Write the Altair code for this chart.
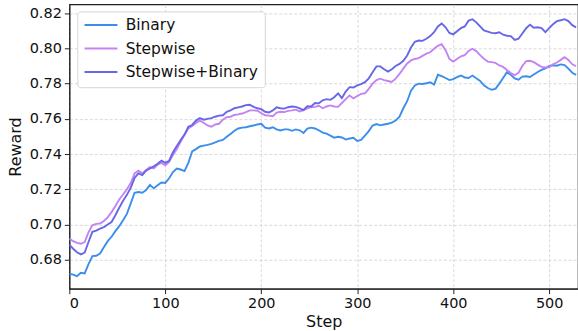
import altair as alt
import pandas as pd

# training steps at which the smoothed reward was logged
steps = list(range(0, 529, 4))

binary = [
    0.6720, 0.6715, 0.6706, 0.6725, 0.6722, 0.6775, 0.6820, 0.6822, 0.6835, 0.6870,
    0.6905, 0.6930, 0.6962, 0.6990, 0.7024, 0.7060, 0.7120, 0.7180, 0.7184, 0.7180,
    0.7195, 0.7225, 0.7205, 0.7222, 0.7238, 0.7236, 0.7262, 0.7298, 0.7318, 0.7312,
    0.7303, 0.7350, 0.7415, 0.7428, 0.7443, 0.7448, 0.7452, 0.7458, 0.7466, 0.7475,
    0.7480, 0.7498, 0.7514, 0.7532, 0.7545, 0.7550, 0.7552, 0.7558, 0.7562, 0.7568,
    0.7572, 0.7550, 0.7545, 0.7552, 0.7540, 0.7534, 0.7540, 0.7540, 0.7532, 0.7540,
    0.7535, 0.7520, 0.7545, 0.7550, 0.7545, 0.7535, 0.7522, 0.7516, 0.7505, 0.7493,
    0.7498, 0.7494, 0.7482, 0.7488, 0.7492, 0.7474, 0.7480, 0.7505, 0.7530, 0.7562,
    0.7570, 0.7563, 0.7568, 0.7572, 0.7578, 0.7590, 0.7612, 0.7660, 0.7700, 0.7760,
    0.7790, 0.7800, 0.7798, 0.7802, 0.7808, 0.7795, 0.7850, 0.7842, 0.7832, 0.7820,
    0.7826, 0.7837, 0.7846, 0.7835, 0.7832, 0.7846, 0.7830, 0.7815, 0.7790, 0.7775,
    0.7765, 0.7770, 0.7800, 0.7832, 0.7865, 0.7850, 0.7830, 0.7822, 0.7840, 0.7842,
    0.7838, 0.7852, 0.7866, 0.7878, 0.7886, 0.7900, 0.7904, 0.7902, 0.7909, 0.7905,
    0.7885, 0.7862, 0.7850,
]

stepwise = [
    0.6920, 0.6905, 0.6895, 0.6890, 0.6900, 0.6955, 0.6995, 0.7003, 0.7005, 0.7020,
    0.7040, 0.7070, 0.7105, 0.7142, 0.7170, 0.7200, 0.7235, 0.7290, 0.7305, 0.7290,
    0.7310, 0.7326, 0.7318, 0.7340, 0.7350, 0.7336, 0.7355, 0.7395, 0.7428, 0.7470,
    0.7510, 0.7545, 0.7560, 0.7576, 0.7590, 0.7578, 0.7562, 0.7555, 0.7568, 0.7572,
    0.7595, 0.7610, 0.7612, 0.7622, 0.7625, 0.7630, 0.7638, 0.7648, 0.7648, 0.7646,
    0.7632, 0.7620, 0.7618, 0.7615, 0.7635, 0.7640, 0.7638, 0.7645, 0.7648, 0.7652,
    0.7642, 0.7650, 0.7660, 0.7666, 0.7668, 0.7674, 0.7660, 0.7670, 0.7676, 0.7670,
    0.7668, 0.7690, 0.7712, 0.7733, 0.7716, 0.7730, 0.7742, 0.7745, 0.7770, 0.7800,
    0.7820, 0.7828, 0.7820, 0.7815, 0.7810, 0.7828, 0.7855, 0.7885, 0.7915, 0.7932,
    0.7940, 0.7945, 0.7958, 0.7970, 0.7978, 0.7998, 0.8015, 0.8024, 0.7990, 0.7940,
    0.7925, 0.7940, 0.7955, 0.7962, 0.7986, 0.7998, 0.7985, 0.7962, 0.7941, 0.7925,
    0.7922, 0.7918, 0.7903, 0.7895, 0.7878, 0.7860, 0.7848, 0.7862, 0.7900, 0.7928,
    0.7930, 0.7922, 0.7908, 0.7895, 0.7892, 0.7893, 0.7910, 0.7920, 0.7935, 0.7950,
    0.7935, 0.7910, 0.7900,
]

stepwise_binary = [
    0.6885, 0.6862, 0.6842, 0.6830, 0.6840, 0.6900, 0.6958, 0.6965, 0.6976, 0.6985,
    0.7000, 0.7014, 0.7052, 0.7095, 0.7135, 0.7168, 0.7208, 0.7265, 0.7290, 0.7280,
    0.7305, 0.7318, 0.7330, 0.7345, 0.7362, 0.7350, 0.7362, 0.7410, 0.7445, 0.7480,
    0.7510, 0.7555, 0.7565, 0.7590, 0.7604, 0.7595, 0.7600, 0.7604, 0.7612, 0.7618,
    0.7620, 0.7640, 0.7648, 0.7660, 0.7665, 0.7670, 0.7678, 0.7680, 0.7668, 0.7660,
    0.7655, 0.7640, 0.7636, 0.7648, 0.7665, 0.7660, 0.7658, 0.7666, 0.7670, 0.7668,
    0.7660, 0.7650, 0.7672, 0.7670, 0.7690, 0.7688, 0.7705, 0.7712, 0.7708, 0.7723,
    0.7745, 0.7718, 0.7755, 0.7780, 0.7778, 0.7790, 0.7797, 0.7808, 0.7830, 0.7865,
    0.7898, 0.7898, 0.7882, 0.7868, 0.7882, 0.7900, 0.7912, 0.7930, 0.7960, 0.8005,
    0.8038, 0.8045, 0.8043, 0.8055, 0.8070, 0.8092, 0.8125, 0.8142, 0.8120, 0.8088,
    0.8080, 0.8098, 0.8115, 0.8125, 0.8158, 0.8166, 0.8148, 0.8125, 0.8102, 0.8095,
    0.8088, 0.8086, 0.8092, 0.8078, 0.8072, 0.8070, 0.8048, 0.8055, 0.8085, 0.8115,
    0.8135, 0.8118, 0.8120, 0.8115, 0.8092, 0.8115, 0.8138, 0.8155, 0.8160, 0.8166,
    0.8155, 0.8132, 0.8120,
]

series_names = ["Binary", "Stepwise", "Stepwise+Binary"]
series_colors = ["#3b8fea", "#c384f2", "#6767e8"]
x_ticks = [0, 100, 200, 300, 400, 500]
y_ticks = [0.68, 0.70, 0.72, 0.74, 0.76, 0.78, 0.80, 0.82]

rows = []
for order, (name, values) in enumerate(zip(series_names, [binary, stepwise, stepwise_binary])):
    for s, v in zip(steps, values):
        rows.append({"Step": s, "Reward": v, "Method": name, "order": order})
df = pd.DataFrame(rows)

FONT = "DejaVu Sans"

chart = (
    alt.Chart(df)
    .mark_line(strokeWidth=1.9, clip=True)
    .encode(
        x=alt.X(
            "Step:Q",
            scale=alt.Scale(domain=[0, 530], nice=False, zero=False),
            axis=alt.Axis(values=x_ticks, title="Step", format="d"),
        ),
        y=alt.Y(
            "Reward:Q",
            scale=alt.Scale(domain=[0.6635, 0.825], nice=False, zero=False),
            axis=alt.Axis(values=y_ticks, title="Reward", format=".2f"),
        ),
        color=alt.Color(
            "Method:N",
            scale=alt.Scale(domain=series_names, range=series_colors),
            legend=alt.Legend(
                title=None,
                orient="none",
                legendX=8,
                legendY=7,
                symbolType="M-3,0H3",
                symbolSize=121,
                symbolStrokeWidth=2,
                symbolOffset=10,
                labelOffset=17,
                labelFontSize=15.5,
                labelFont=FONT,
                labelColor="#111",
                rowPadding=6.5,
                padding=6,
                strokeColor="#d6d6d6",
                fillColor="white",
                cornerRadius=3,
            ),
        ),
        order="order:Q",
    )
    .properties(
        width=510,
        height=285,
        autosize=alt.AutoSizeParams(type="none"),
        padding={"left": 69.5, "top": 4, "right": 0, "bottom": 42},
    )
    .configure_view(stroke="#222", strokeWidth=1.2)
    .configure_axis(
        labelFont=FONT,
        titleFont=FONT,
        labelFontSize=14.5,
        titleFontSize=16,
        labelColor="#111",
        titleColor="#111",
        titleFontWeight="normal",
        domainColor="#222",
        domainWidth=1.2,
        tickColor="#222",
        tickSize=5,
        labelPadding=3,
        grid=True,
        gridColor="#cfcfcf",
        gridDash=[3, 2],
        gridWidth=0.8,
    )
    .configure_axisX(titlePadding=3)
    .configure_axisY(titlePadding=6)
)

chart.save("out.html", embed_options={"renderer": "svg", "actions": False})
